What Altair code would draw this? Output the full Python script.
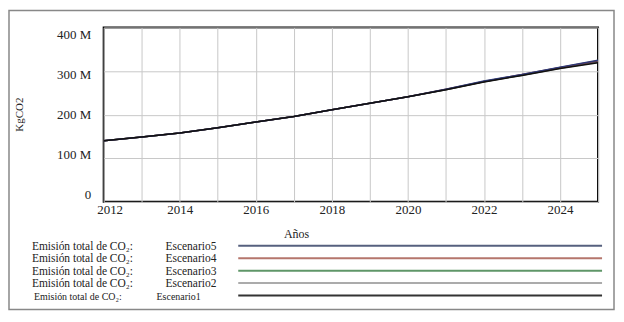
import altair as alt
import pandas as pd

# ---- data ----
years = list(range(2012, 2026))
scenarios = ["Escenario5", "Escenario4", "Escenario3", "Escenario2", "Escenario1"]
colors = ["#56607e", "#b5766c", "#5f9668", "#ababab", "#333333"]
line_colors = ["#2e3a78", "#7a3a4a", "#3f6a48", "#6a6a6a", "#111111"]
legend_prefix = "Emisión total de CO₂:"

common = [140, 149, 158, 170, 183, 196, 211, 226, 241]
esc5 = common + [258, 277, 292, 309, 325]
esc4 = common + [258, 276, 292, 308, 323.5]
esc3 = common + [257.5, 276, 291, 307.5, 322]
esc2 = common + [257, 275.5, 290.5, 306.5, 320.5]
esc1 = common + [257, 275, 290, 306, 319]
series = {"Escenario5": esc5, "Escenario4": esc4, "Escenario3": esc3,
          "Escenario2": esc2, "Escenario1": esc1}

x_ticks = years
y_ticks = [0, 100e6, 200e6, 300e6, 400e6]

rows = []
for s in ["Escenario3", "Escenario2", "Escenario4", "Escenario5", "Escenario1"]:
    for y, v in zip(years, series[s]):
        rows.append({"year": y, "value": v * 1e6, "scenario": s})
df = pd.DataFrame(rows)

leg = pd.DataFrame({"scenario": scenarios, "prefix": [legend_prefix] * len(scenarios)})

FONT = "Liberation Serif"

color_scale = alt.Scale(domain=scenarios, range=colors)
line_scale = alt.Scale(domain=scenarios, range=line_colors)

lines = alt.Chart(df).mark_line(strokeWidth=1.5, clip=True).encode(
    x=alt.X("year:Q",
            scale=alt.Scale(domain=[2012, 2025], nice=False, zero=False),
            axis=alt.Axis(values=x_ticks, format="d",
                          labelExpr="datum.value % 2 == 0 ? datum.label : ''",
                          labelOffset=alt.ExprRef("datum.value == 2012 ? -7 : 0"),
                          title="Años", titleX=193, titleY=32, titleBaseline="middle",
                          titleFontSize=12, titleFontWeight="normal")),
    y=alt.Y("value:Q",
            scale=alt.Scale(domain=[0, 400e6], nice=False),
            axis=alt.Axis(values=y_ticks,
                          labelExpr="datum.value == 0 ? '0' : (datum.value / 1000000) + ' M'",
                          labelOffset=alt.ExprRef("(datum.value - 200000000) / 200000000 * 7"),
                          labelPadding=13,
                          title="KgCO2", titleX=-84, titleY=87, titleAngle=-90,
                          titleAlign="center", titleBaseline="middle",
                          titleFontSize=11, titleFontWeight="normal")),
    color=alt.Color("scenario:N", scale=line_scale, legend=None),
    detail="scenario:N",
)

leg_y = alt.Y("scenario:N",
              scale=alt.Scale(type="point", domain=scenarios, range=[219, 269], padding=0),
              axis=None)

leg_base = alt.Chart(leg)

leg_rules = leg_base.mark_rule(strokeWidth=2).encode(
    x=alt.value(135), x2=alt.value(500), y=leg_y,
    color=alt.Color("scenario:N", scale=color_scale, legend=None),
)

leg_prefix_main = leg_base.transform_filter("datum.scenario != 'Escenario1'").mark_text(
    align="left", baseline="middle", font=FONT, fontSize=11.5, color="#222", dy=1
).encode(x=alt.value(-72), y=leg_y, text="prefix:N")

leg_name_main = leg_base.transform_filter("datum.scenario != 'Escenario1'").mark_text(
    align="left", baseline="middle", font=FONT, fontSize=11.5, color="#222", dy=1
).encode(x=alt.value(62), y=leg_y, text="scenario:N")

leg_prefix_last = leg_base.transform_filter("datum.scenario == 'Escenario1'").mark_text(
    align="left", baseline="middle", font=FONT, fontSize=10, color="#222", dy=1
).encode(x=alt.value(-70), y=leg_y, text="prefix:N")

leg_name_last = leg_base.transform_filter("datum.scenario == 'Escenario1'").mark_text(
    align="left", baseline="middle", font=FONT, fontSize=10, color="#222", dy=1
).encode(x=alt.value(53), y=leg_y, text="scenario:N")

border = alt.Chart(alt.Data(values=[{"k": 1}])).mark_rect(
    fill=None, stroke="#888888", strokeWidth=1.5
).encode(x=alt.value(-95), x2=alt.value(512), y=alt.value(-17), y2=alt.value(283))

chart = alt.layer(
    border, lines, leg_rules, leg_prefix_main, leg_name_main, leg_prefix_last, leg_name_last
).resolve_scale(y="independent", color="independent").properties(
    width=496, height=175,
    padding={"left": 96, "top": 19, "right": 18, "bottom": 110},
    autosize=alt.AutoSizeParams(type="none"),
    background="white",
).configure_view(
    stroke="black", strokeWidth=2
).configure_axis(
    labelFont=FONT, titleFont=FONT, labelFontSize=13, labelColor="#222",
    titleColor="#222", grid=True, gridColor="#c8c8c8", gridWidth=1,
    domain=False, ticks=False,
)

chart.save("out.html", embed_options={"renderer": "svg", "actions": False})
